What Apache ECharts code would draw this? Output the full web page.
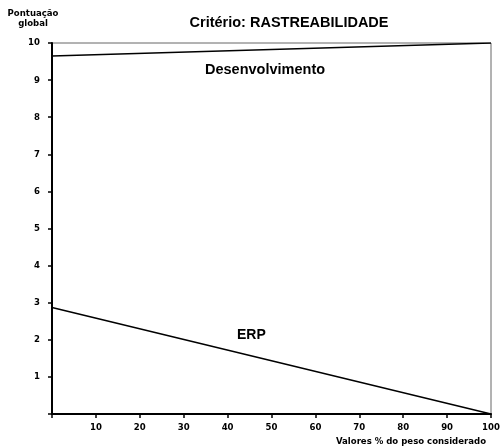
<!DOCTYPE html>
<html><head><meta charset="utf-8">
<script src="https://cdn.jsdelivr.net/npm/echarts@6/dist/echarts.min.js"></script>
<style>html,body{margin:0;padding:0;background:#fff}#c{width:503px;height:448px}</style>
</head><body><div id="c"></div>
<script>
var xPoints = [0, 100];
var desenvolvimento = [9.65, 10];
var erp = [2.87, 0];
var titleText = 'Critério: RASTREABILIDADE';
var yName = 'Pontuação\nglobal';
var xName = 'Valores % do peso considerado';
var seriesNames = ['Desenvolvimento', 'ERP'];

var chart = echarts.init(document.getElementById('c'), null, {renderer: 'canvas'});
var font = 'Liberation Sans, Arial, sans-serif';
var tickFont = 'DejaVu Sans Condensed, Liberation Sans, sans-serif';
function pairs(ys){ return xPoints.map(function(x,i){ return [x, ys[i]]; }); }
chart.setOption({
  animation: false,
  backgroundColor: '#fff',
  title: {text: titleText, left: 284, top: 10, textAlign: 'center',
    textStyle: {fontFamily: font, fontWeight: 'bold', fontSize: 14.5, color: '#000'}},
  grid: {left: 52, right: 12, top: 43, bottom: 34, show: true, borderColor: '#666', borderWidth: 1},
  xAxis: {type: 'value', min: 0, max: 100, interval: 10,
    name: xName, nameLocation: 'end', nameGap: 0,
    nameTextStyle: {fontFamily: tickFont, fontWeight: 'bold', fontSize: 9.5, color: '#000', align: 'right', verticalAlign: 'top', padding: [23, 5, 0, 0]},
    axisLine: {lineStyle: {color: '#000', width: 2}},
    axisTick: {show: true, length: 4, lineStyle: {color: '#000', width: 1.5}},
    splitLine: {show: false},
    axisLabel: {fontFamily: tickFont, fontWeight: 'bold', fontSize: 9.5, color: '#000', margin: 9,
      formatter: function(v){ return v === 0 ? '' : v; }}
  },
  yAxis: {type: 'value', min: 0, max: 10, interval: 1,
    name: yName, nameLocation: 'end', nameGap: 14,
    nameTextStyle: {fontFamily: tickFont, fontWeight: 'bold', fontSize: 9.5, color: '#000', align: 'center', lineHeight: 10, padding: [0, 38, 0, 0]},
    axisLine: {lineStyle: {color: '#000', width: 2}},
    axisTick: {show: true, length: 4, lineStyle: {color: '#000', width: 1.5}},
    splitLine: {show: false},
    axisLabel: {fontFamily: tickFont, fontWeight: 'bold', fontSize: 9.5, color: '#000', margin: 12,
      formatter: function(v){ return v === 0 ? '' : v; }}
  },
  series: [
    {name: seriesNames[0], type: 'line', data: pairs(desenvolvimento), symbol: 'none',
      lineStyle: {color: '#000', width: 1.5}},
    {name: seriesNames[1], type: 'line', data: pairs(erp), symbol: 'none',
      lineStyle: {color: '#000', width: 1.5}}
  ],
  graphic: [
    {type: 'text', left: 205, top: 62, style: {text: seriesNames[0], font: 'bold 14.5px ' + font, fill: '#000'}},
    {type: 'text', left: 237, top: 328, style: {text: seriesNames[1], font: 'bold 14px ' + font, fill: '#000'}}
  ]
});
</script></body></html>
